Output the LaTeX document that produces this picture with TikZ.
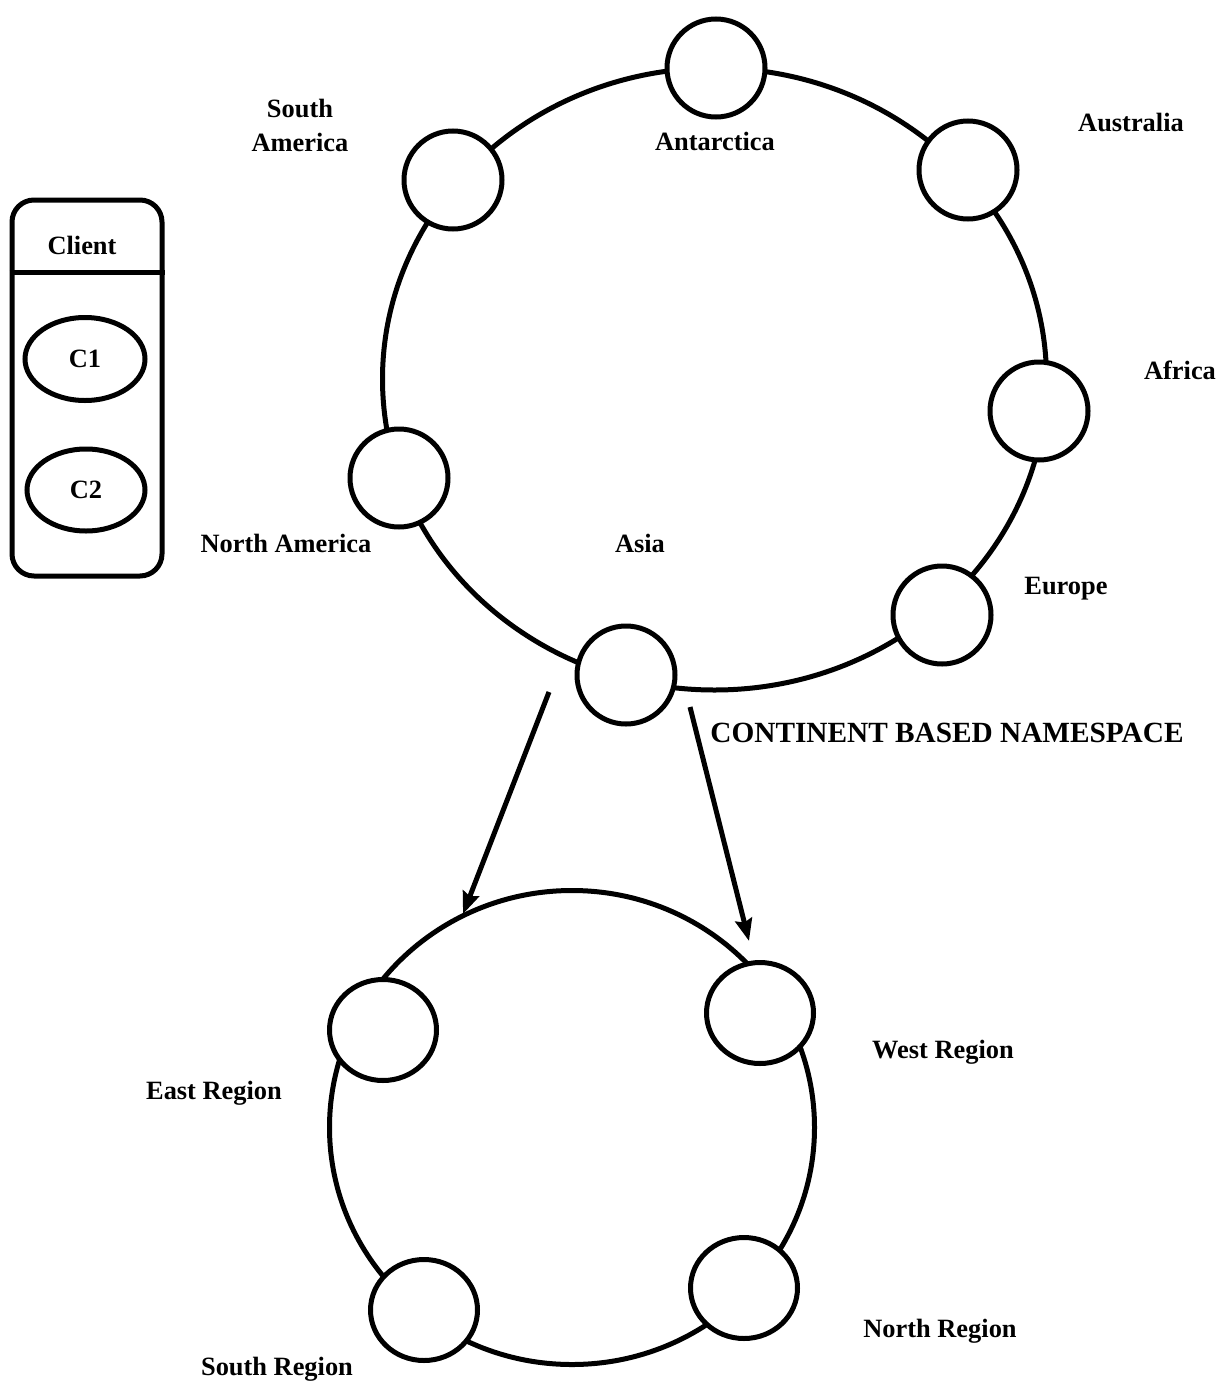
\documentclass[tikz,border=0pt]{standalone}
\usepackage{fontspec}
\setmainfont{Liberation Serif}
\usetikzlibrary{arrows.meta,shapes.geometric}
\begin{document}
\begin{tikzpicture}[x=1pt,y=-1pt,
  lw/.style={line width=5pt},
  ringshape/.style={ellipse, draw, lw, inner sep=0pt},
  site/.style={circle, draw, lw, fill=white, minimum size=98pt, inner sep=0pt},
  region/.style={ellipse, draw, lw, fill=white, minimum width=107pt, minimum height=101pt, inner sep=0pt},
  lbl/.style={font=\fontsize{26.4}{34}\selectfont\bfseries, inner sep=0pt, anchor=base},
  ttl/.style={font=\fontsize{29.3}{34}\selectfont\bfseries, inner sep=0pt, anchor=base},
  link/.style={lw, -{Stealth[length=22pt,width=17pt,inset=3pt]}},
]
\useasboundingbox (0,0) rectangle (1220,1384);

% client panel
\node[draw, lw, rounded corners=22pt, minimum width=150pt, minimum height=376pt, inner sep=0pt] (client) at (87,388) {};
\draw[lw] ([yshift=-75pt]client.north west) -- ([yshift=-75pt]client.north east);
\node[lbl] (clientlbl) at (82,254) {Client};
\node[ellipse, draw, lw, minimum width=120pt, minimum height=83pt, inner sep=0pt,
      font=\fontsize{26.4}{34}\selectfont\bfseries] (c1) at (85,359) {C1};
\node[ellipse, draw, lw, minimum width=118pt, minimum height=82pt, inner sep=0pt,
      font=\fontsize{26.4}{34}\selectfont\bfseries] (c2) at (86,490) {C2};

% continent ring
\node[ringshape, minimum width=664pt, minimum height=622pt] (continents) at (714.5,379) {};
\node[site] (antarctica) at (716,68) {};
\node[site] (samerica)   at (453,180) {};
\node[site] (australia)  at (968,170) {};
\node[site] (africa)     at (1039,411) {};
\node[site] (europe)     at (942,615) {};
\node[site] (asia)       at (626,675) {};
\node[site] (namerica)   at (399,478) {};

\node[lbl, anchor=center, align=center] (samericalbl) at (300,125) {South\\America};
\node[lbl] (antarcticalbl) at (715,150) {Antarctica};
\node[lbl] (australialbl)  at (1131,131) {Australia};
\node[lbl] (africalbl)     at (1180,379) {Africa};
\node[lbl] (europelbl)     at (1066,594) {Europe};
\node[lbl] (asialbl)       at (640,552) {Asia};
\node[lbl] (namericalbl)   at (286,552) {North America};
\node[ttl] (title)         at (947,742) {CONTINENT BASED NAMESPACE};

% region ring
\node[ringshape, minimum width=485pt, minimum height=474pt] (regions) at (572,1127.5) {};
\node[region] (east)  at (383,1030) {};
\node[region] (west)  at (760,1013) {};
\node[region] (south) at (424,1310) {};
\node[region] (north) at (744,1288) {};

\node[lbl] (eastlbl)  at (214,1099) {East Region};
\node[lbl] (westlbl)  at (943,1058) {West Region};
\node[lbl] (southlbl) at (277,1375) {South Region};
\node[lbl] (northlbl) at (940,1337) {North Region};

% zoom-in arrows from Asia to its regions
\coordinate (a1s) at (549,692);
\coordinate (a1e) at (463,914);
\coordinate (a2s) at (690,707);
\coordinate (a2e) at (749,941);
\draw[link] (a1s) -- (a1e);
\draw[link] (a2s) -- (a2e);
\end{tikzpicture}
\end{document}
